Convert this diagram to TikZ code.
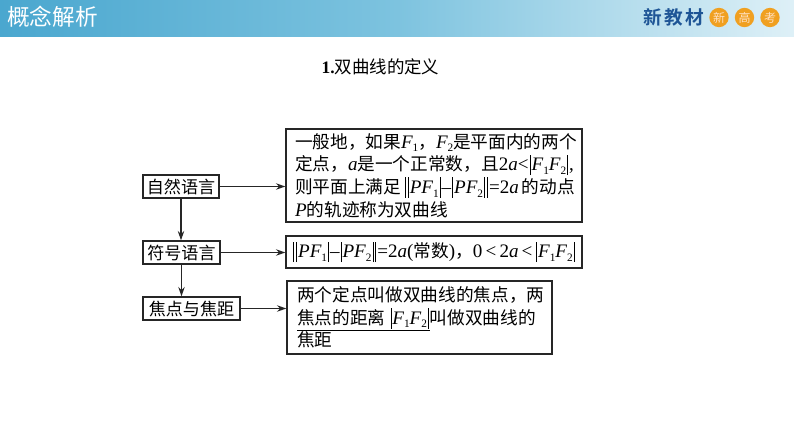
\documentclass[tikz,border=0pt]{standalone}
\usepackage{fontspec}
\setmainfont{Liberation Serif}
\newfontfamily\cjk{Noto Sans CJK SC}
\newfontfamily\cjkb{Noto Sans CJK SC Bold}
\newfontfamily\ltn{Liberation Serif}
\usetikzlibrary{arrows.meta}
\newcommand{\ivar}[1]{{\ltn\itshape\fontsize{14.3pt}{17pt}\selectfont #1}}
\newcommand{\num}[1]{{\ltn\fontsize{14.3pt}{17pt}\selectfont #1}}
\newcommand{\lowsub}[1]{\raisebox{-0.2em}{\ltn\fontsize{8.5pt}{9pt}\selectfont #1}}
\newcommand{\Fa}{\ivar{F}\lowsub{1}}
\newcommand{\Fb}{\ivar{F}\lowsub{2}}
\newcommand{\barb}{\hspace{0.8pt}\raisebox{-0.24em}{\rule{0.6pt}{1.15em}}\hspace{0.8pt}}
\newcommand{\dbar}{\barb\barb}
\begin{document}
\begin{tikzpicture}[x=0.75pt,y=-0.75pt,
  font=\fontsize{13.25pt}{17pt}\selectfont\cjk,
  leftbox/.style={draw=black!85,line width=1pt,inner sep=0pt,minimum height=17.25pt,font=\fontsize{12.8pt}{15pt}\selectfont\cjk},
  rightbox/.style={draw=black!85,line width=1pt,inner sep=0pt,align=left},
  flow/.style={draw=black!85,line width=1pt,-{Stealth[length=7pt,width=4.8pt]}},
  badge/.style={circle,fill={rgb,255:red,240;green,160;blue,32},minimum size=14.5pt,inner sep=0pt,text=orange!25!white,font=\fontsize{9pt}{10pt}\selectfont\cjk}]
\useasboundingbox (0,0) rectangle (794,447);
\fill[white] (0,0) rectangle (794,447);
\shade[left color={rgb,255:red,74;green,167;blue,207},right color={rgb,255:red,222;green,240;blue,247},middle color={rgb,255:red,125;green,195;blue,223}] (0,0) rectangle (794,36);
\node[text=white,font=\fontsize{17pt}{20pt}\selectfont\cjk,anchor=west,inner sep=0pt] (title) at (7,17) {概念解析};
\node[text={rgb,255:red,30;green,85;blue,150},font=\fontsize{14pt}{16pt}\selectfont\cjkb,anchor=west,inner sep=0pt] (brand) at (643,17) {新\hspace{2pt}教\hspace{2pt}材};
\node[badge] (b1) at (719,17.5) {新};
\node[badge] (b2) at (744.5,17.5) {高};
\node[badge] (b3) at (770,17.5) {考};

\node[font=\fontsize{13.1pt}{16pt}\selectfont\cjk,inner sep=0pt] (heading) at (380.5,67) {{\ltn\bfseries 1.}双曲线的定义};

\node[leftbox,minimum width=57pt] (n1) at (181,186.5) {自然语言};
\node[leftbox,minimum width=57.75pt] (n2) at (181.5,252.5) {符号语言};
\node[leftbox,minimum width=72.75pt] (n3) at (191.5,308.5) {焦点与焦距};

\node[rightbox,minimum width=222pt,minimum height=69.75pt] (r1) at (434,175.5) {%
\hspace*{3pt}一般地，如果\Fa，\Fb 是平面内的两个\\
\hspace*{3pt}定点，\ivar{a}是一个正常数，且\num{2}\ivar{a}\num{<}\barb\Fa\Fb\barb\num{,}\\
\hspace*{3pt}则平面上满足\,\dbar\ivar{PF}\lowsub{1}\barb\num{–}\barb\ivar{PF}\lowsub{2}\dbar\num{=2}\ivar{a}\,的动点\\
\hspace*{3pt}\ivar{P}的轨迹称为双曲线};
\node[rightbox,minimum width=222pt,minimum height=24pt] (r2) at (434,252) {%
\dbar\ivar{PF}\lowsub{1}\barb\num{–}\barb\ivar{PF}\lowsub{2}\dbar\num{=2}\ivar{a}\num{(}常数\num{)}，\num{0\,<\,2}\ivar{a}\,\num{<}\,\barb\Fa\Fb\barb};
\node[rightbox,minimum width=198.75pt,minimum height=54.75pt] (r3) at (419.5,317.5) {%
\hspace*{2pt}两个定点叫做双曲线的焦点，两\\
\hspace*{2pt}\underline{焦点的距离 \barb\Fa\Fb\barb}叫做双曲线的\\
\hspace*{2pt}焦距};

\draw[flow] (n1.east) -- (n1.east -| r1.west);
\draw[flow] (n2.east) -- (n2.east -| r2.west);
\draw[flow] (n3.east) -- (n3.east -| r3.west);
\draw[flow] (n1.south) -- (n1.south |- n2.north);
\draw[flow] (n2.south) -- (n2.south |- n3.north);
\end{tikzpicture}
\end{document}
